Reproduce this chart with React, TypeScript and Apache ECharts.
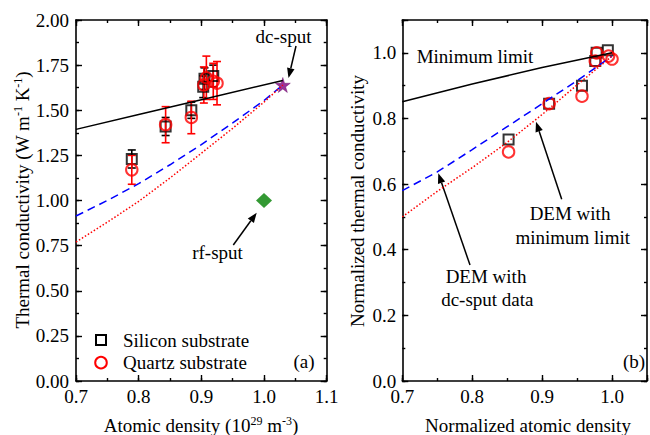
import React, { useEffect, useRef } from 'react';
import * as echarts from 'echarts';

// ---- Panel (a) data ----
const siliconX = [0.789, 0.843, 0.884, 0.903, 0.905, 0.919];
const siliconY = [1.23, 1.41, 1.5, 1.63, 1.675, 1.69];
const siliconErr = [0.05, 0.05, 0.045, 0.06, 0.06, 0.06];
const quartzX = [0.789, 0.843, 0.884, 0.904, 0.908, 0.919, 0.925];
const quartzY = [1.17, 1.42, 1.46, 1.64, 1.68, 1.66, 1.65];
const quartzErr = [0.08, 0.1, 0.09, 0.1, 0.12, 0.1, 0.12];
const dcSputX = [1.03];
const dcSputY = [1.64];
const rfSputX = [1.0];
const rfSputY = [1.0];
const minLimitX = [0.7, 0.8, 0.9, 1.03];
const minLimitY = [1.394, 1.476, 1.558, 1.665];
const demX = [0.7, 0.75, 0.8, 0.85, 0.9, 0.95, 1.0, 1.03];
const demDcY = [0.914, 1.0, 1.093, 1.198, 1.31, 1.43, 1.554, 1.64];
const demMinY = [0.77, 0.88, 0.995, 1.125, 1.262, 1.4, 1.545, 1.64];

// ---- Panel (b) data ----
const normSiX = [0.852, 0.91, 0.957, 0.976, 0.978, 0.994];
const normSiY = [0.736, 0.845, 0.9, 0.975, 1.0, 1.008];
const normQzX = [0.852, 0.91, 0.957, 0.978, 0.976, 0.995, 1.0];
const normQzY = [0.698, 0.845, 0.868, 1.0, 0.975, 0.99, 0.981];
const normMinX = [0.7, 0.8, 0.9, 1.0];
const normMinY = [0.851, 0.905, 0.955, 1.0];
const normDemX = [0.7, 0.75, 0.8, 0.85, 0.9, 0.95, 1.0];
const normDemDcY = [0.58, 0.637, 0.705, 0.775, 0.845, 0.915, 0.99];
const normDemMinY = [0.5, 0.578, 0.65, 0.727, 0.812, 0.902, 0.99];

const FONT = 'Liberation Serif';
const STAR = 'path://M50,0 L61,35 L98,35 L68,57 L79,91 L50,70 L21,91 L32,57 L2,35 L39,35 Z';

const zip = (xs: number[], ys: number[]) => xs.map((x, i) => [x, ys[i]]);
const zip3 = (xs: number[], ys: number[], es: number[]) => xs.map((x, i) => [x, ys[i], es[i]]);

function mkAxis(o: { grid: number; pos: string; min: number; max: number; step: number; len: number; line: boolean; fmt?: (v: number) => string; margin?: number }) {
  return {
    type: 'value', gridIndex: o.grid, position: o.pos, min: o.min, max: o.max, interval: o.step,
    axisLine: { show: o.line, onZero: false, lineStyle: { color: '#000', width: 1.6 } },
    axisTick: { show: true, inside: true, length: o.len, lineStyle: { color: '#000', width: 1.4 } },
    axisLabel: { show: !!o.fmt, formatter: o.fmt, margin: o.margin ?? 6, color: '#000', fontFamily: FONT, fontSize: 19, showMinLabel: true, showMaxLabel: true, hideOverlap: false },
    splitLine: { show: false }, minorTick: { show: false }, minorSplitLine: { show: false }, silent: true,
  };
}

function arrow(x1: number, y1: number, x2: number, y2: number) {
  const a = Math.atan2(y2 - y1, x2 - x1);
  const L = 10, W = 3.8;
  const bx = x2 - L * Math.cos(a), by = y2 - L * Math.sin(a);
  const px = -Math.sin(a) * W, py = Math.cos(a) * W;
  return [
    { type: 'line', shape: { x1, y1, x2: bx, y2: by }, style: { stroke: '#000', lineWidth: 1.5 } },
    { type: 'polygon', shape: { points: [[x2, y2], [bx + px, by + py], [bx - px, by - py]] }, style: { fill: '#000' } },
  ];
}

function errBars(color: string) {
  return (params: any, api: any) => {
    const x = api.value(0), y = api.value(1), e = api.value(2);
    const t = api.coord([x, y + e]);
    const b = api.coord([x, y - e]);
    const hw = 4;
    const st = { stroke: color, lineWidth: 1.6 };
    return {
      type: 'group',
      children: [
        { type: 'line', shape: { x1: t[0], y1: t[1], x2: b[0], y2: b[1] }, style: st },
        { type: 'line', shape: { x1: t[0] - hw, y1: t[1], x2: t[0] + hw, y2: t[1] }, style: st },
        { type: 'line', shape: { x1: b[0] - hw, y1: b[1], x2: b[0] + hw, y2: b[1] }, style: st },
      ],
    };
  };
}

const txt = (text: string, x: number, y: number, extra: any = {}) => ({
  type: 'text', x, y, silent: true,
  style: { text, fontFamily: FONT, fontSize: 19, fill: '#000', align: 'center', verticalAlign: 'middle', ...extra },
});

const supRich = { sup: { fontSize: 12, lineHeight: 12, verticalAlign: 'top', fontFamily: FONT, fill: '#000' } };

export default function App() {
  const ref = useRef<HTMLDivElement>(null);
  useEffect(() => {
    if (!ref.current) return;
    const chart = echarts.init(ref.current, null, { renderer: 'svg' });
    const f1 = (v: number) => (v <= 1.1001 ? v.toFixed(1) : '');
    const f2 = (v: number) => v.toFixed(2);
    const fbx = (v: number) => (v <= 1.0001 ? v.toFixed(1) : '');
    const fby = (v: number) => (v <= 1.0001 ? v.toFixed(1) : '');
    const lineS = (xi: number, yi: number, data: number[][], color: string, type: any) => ({
      type: 'line', xAxisIndex: xi, yAxisIndex: yi, data, showSymbol: false, smooth: false, silent: true,
      lineStyle: { color, width: 1.5, type, cap: 'butt' },
    });
    const sq = { color: 'rgba(0,0,0,0)', borderColor: '#000', borderWidth: 2 };
    const ci = { color: 'rgba(0,0,0,0)', borderColor: '#ff0000', borderWidth: 2 };
    const option: any = {
      animation: false,
      textStyle: { fontFamily: FONT },
      grid: [
        { left: 76, top: 20, width: 250.7, height: 361 },
        { left: 402.3, top: 20, width: 251, height: 361 },
      ],
      xAxis: [
        mkAxis({ grid: 0, pos: 'bottom', min: 0.7, max: 1.1, step: 0.1, len: 6, line: true, fmt: f1, margin: 6 }),
        mkAxis({ grid: 0, pos: 'bottom', min: 0.7, max: 1.1, step: 0.05, len: 3, line: false }),
        mkAxis({ grid: 0, pos: 'top', min: 0.7, max: 1.1, step: 0.1, len: 6, line: true }),
        mkAxis({ grid: 0, pos: 'top', min: 0.7, max: 1.1, step: 0.05, len: 3, line: false }),
        mkAxis({ grid: 1, pos: 'bottom', min: 0.7, max: 1.05, step: 0.1, len: 6, line: true, fmt: fbx, margin: 6 }),
        mkAxis({ grid: 1, pos: 'bottom', min: 0.7, max: 1.05, step: 0.05, len: 3, line: false }),
        mkAxis({ grid: 1, pos: 'top', min: 0.7, max: 1.05, step: 0.1, len: 6, line: true }),
        mkAxis({ grid: 1, pos: 'top', min: 0.7, max: 1.05, step: 0.05, len: 3, line: false }),
      ],
      yAxis: [
        mkAxis({ grid: 0, pos: 'left', min: 0, max: 2, step: 0.25, len: 6, line: true, fmt: f2, margin: 7 }),
        mkAxis({ grid: 0, pos: 'left', min: 0, max: 2, step: 0.125, len: 3, line: false }),
        mkAxis({ grid: 0, pos: 'right', min: 0, max: 2, step: 0.25, len: 6, line: true }),
        mkAxis({ grid: 0, pos: 'right', min: 0, max: 2, step: 0.125, len: 3, line: false }),
        mkAxis({ grid: 1, pos: 'left', min: 0, max: 1.1, step: 0.2, len: 6, line: true, fmt: fby, margin: 6 }),
        mkAxis({ grid: 1, pos: 'left', min: 0, max: 1.1, step: 0.1, len: 3, line: false }),
        mkAxis({ grid: 1, pos: 'right', min: 0, max: 1.1, step: 0.2, len: 6, line: true }),
        mkAxis({ grid: 1, pos: 'right', min: 0, max: 1.1, step: 0.1, len: 3, line: false }),
      ],
      series: [
        lineS(0, 0, zip(minLimitX, minLimitY), '#000000', 'solid'),
        lineS(0, 0, zip(demX, demDcY), '#0000ff', [8, 5]),
        lineS(0, 0, zip(demX, demMinY), '#ff0000', [1.5, 2]),
        { type: 'custom', xAxisIndex: 0, yAxisIndex: 0, data: zip3(siliconX, siliconY, siliconErr), renderItem: errBars('#000'), encode: { x: 0, y: 1 }, silent: true },
        { type: 'scatter', xAxisIndex: 0, yAxisIndex: 0, data: zip(siliconX, siliconY), symbol: 'rect', symbolSize: 10, itemStyle: sq, silent: true },
        { type: 'custom', xAxisIndex: 0, yAxisIndex: 0, data: zip3(quartzX, quartzY, quartzErr), renderItem: errBars('#ff0000'), encode: { x: 0, y: 1 }, silent: true },
        { type: 'scatter', xAxisIndex: 0, yAxisIndex: 0, data: zip(quartzX, quartzY), symbol: 'circle', symbolSize: 11.5, itemStyle: ci, silent: true },
        { type: 'scatter', xAxisIndex: 0, yAxisIndex: 0, data: zip(dcSputX, dcSputY), symbol: STAR, symbolSize: 15, itemStyle: { color: '#800080', borderColor: '#600060', borderWidth: 0.5 }, silent: true },
        { type: 'scatter', xAxisIndex: 0, yAxisIndex: 0, data: zip(rfSputX, rfSputY), symbol: 'diamond', symbolSize: [16, 15], itemStyle: { color: '#008000' }, silent: true },
        lineS(4, 4, zip(normMinX, normMinY), '#000000', 'solid'),
        lineS(4, 4, zip(normDemX, normDemDcY), '#0000ff', [8, 5]),
        lineS(4, 4, zip(normDemX, normDemMinY), '#ff0000', [1.5, 2]),
        { type: 'scatter', xAxisIndex: 4, yAxisIndex: 4, data: zip(normSiX, normSiY), symbol: 'rect', symbolSize: 10, itemStyle: sq, silent: true },
        { type: 'scatter', xAxisIndex: 4, yAxisIndex: 4, data: zip(normQzX, normQzY), symbol: 'circle', symbolSize: 11.5, itemStyle: ci, silent: true },
      ],
      graphic: [
        { ...txt('Thermal conductivity (W m{sup|-1} K{sup|-1})', 22, 200, { lineHeight: 21, rich: supRich }), rotation: Math.PI / 2 },
        txt('Atomic density (10{sup|29} m{sup|-3})', 201, 425, { lineHeight: 21, rich: supRich }),
        { ...txt('Normalized thermal conductivity', 357, 201), rotation: Math.PI / 2 },
        txt('Normalized atomic density', 528, 425),
        { type: 'rect', shape: { x: 96, y: 335, width: 10, height: 10 }, style: { fill: 'none', stroke: '#000', lineWidth: 2 }, silent: true },
        txt('Silicon substrate', 123, 340, { align: 'left' }),
        { type: 'circle', shape: { cx: 101, cy: 362.7, r: 5.8 }, style: { fill: 'none', stroke: '#ff0000', lineWidth: 2 }, silent: true },
        txt('Quartz substrate', 123, 362.7, { align: 'left' }),
        txt('(a)', 304, 361.7),
        txt('(b)', 634, 361),
        txt('dc-sput', 283.5, 36),
        ...arrow(296, 46, 288.5, 78),
        txt('rf-sput', 217.5, 252),
        ...arrow(233.3, 245, 256.7, 212.7),
        txt('Minimum limit', 416.7, 56.7, { align: 'left' }),
        txt('DEM with', 570, 213.3),
        txt('minimum limit', 572.7, 237.3),
        ...arrow(561.7, 199.3, 536, 121.7),
        txt('DEM with', 486, 276),
        txt('dc-sput data', 487.3, 299.3),
        ...arrow(470, 265, 438.3, 173.3),
      ],
    };
    chart.setOption(option);
    return () => chart.dispose();
  }, []);
  return <div ref={ref} style={{ position: 'fixed', left: 0, top: 0, width: 650, height: 435, background: '#fff' }} />;
}
